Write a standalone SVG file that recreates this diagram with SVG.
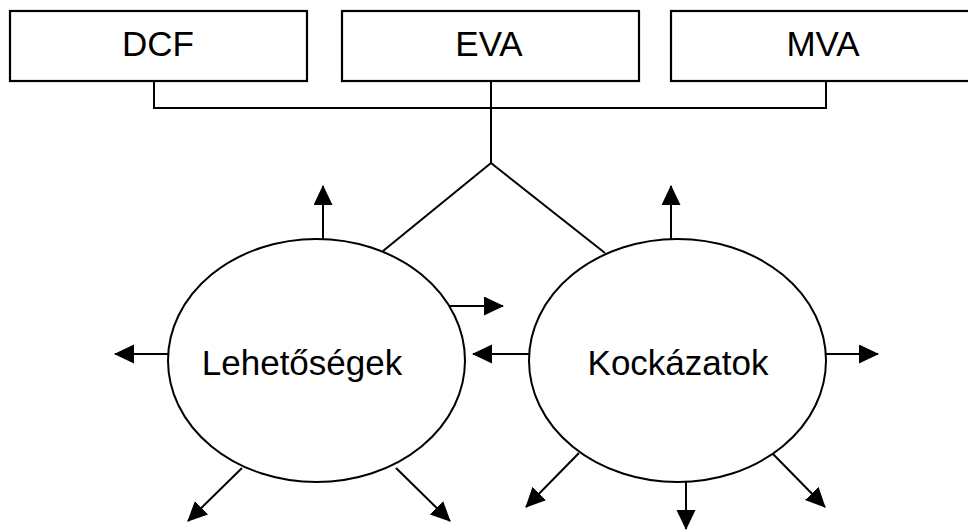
<svg xmlns="http://www.w3.org/2000/svg" width="968" height="530" viewBox="0 0 968 530">
<style>
.box{fill:#fff;stroke:#000;stroke-width:2.2}
.ell{fill:#fff;stroke:#000;stroke-width:2}
.ln{fill:none;stroke:#000;stroke-width:2}
.ar{fill:none;stroke:#000;stroke-width:2;marker-end:url(#ah)}
.t{font-family:"Liberation Sans",Arial,sans-serif;font-size:35px;fill:#000;text-anchor:middle}
</style>
<defs>
<marker id="ah" markerUnits="userSpaceOnUse" markerWidth="20" markerHeight="20" refX="19" refY="9.5" orient="auto">
<path d="M0,0 L20,9.5 L0,19 z" fill="#000"/>
</marker>
</defs>
<rect width="968" height="530" fill="#fff"/>
<g id="connectors">
<polyline class="ln" points="154,81 154,108 826,108 826,81"/>
<line class="ln" x1="491" y1="81" x2="491" y2="163"/>
<polyline class="ln" points="383,251 491,163 605,253"/>
<line class="ar" x1="323" y1="239" x2="323" y2="186"/>
<line class="ar" x1="168" y1="354" x2="115" y2="354"/>
<line class="ar" x1="449" y1="306" x2="503" y2="306"/>
<line class="ar" x1="242" y1="468" x2="188" y2="521"/>
<line class="ar" x1="396" y1="468" x2="450" y2="521"/>
<line class="ar" x1="671" y1="239" x2="671" y2="186"/>
<line class="ar" x1="529" y1="354" x2="473" y2="354"/>
<line class="ar" x1="826" y1="354" x2="878" y2="354"/>
<line class="ar" x1="579" y1="453" x2="526" y2="507"/>
<line class="ar" x1="686" y1="482" x2="686" y2="529"/>
<line class="ar" x1="773" y1="454" x2="825" y2="507"/>
</g>
<g id="dcf">
<rect class="box" x="10" y="11" width="297" height="70"/>
<text class="t" x="158" y="56">DCF</text>
</g>
<g id="eva">
<rect class="box" x="342" y="11" width="297" height="70"/>
<text class="t" x="489" y="56">EVA</text>
</g>
<g id="mva">
<rect class="box" x="671" y="11" width="310" height="70"/>
<text class="t" x="823" y="56">MVA</text>
</g>
<g id="lehetosegek">
<ellipse class="ell" cx="316.5" cy="360.5" rx="148.5" ry="121.5"/>
<text class="t" x="302" y="375">Lehetőségek</text>
</g>
<g id="kockazatok">
<ellipse class="ell" cx="677.5" cy="360.5" rx="148.5" ry="121.5"/>
<text class="t" x="678" y="375">Kockázatok</text>
</g>
</svg>
